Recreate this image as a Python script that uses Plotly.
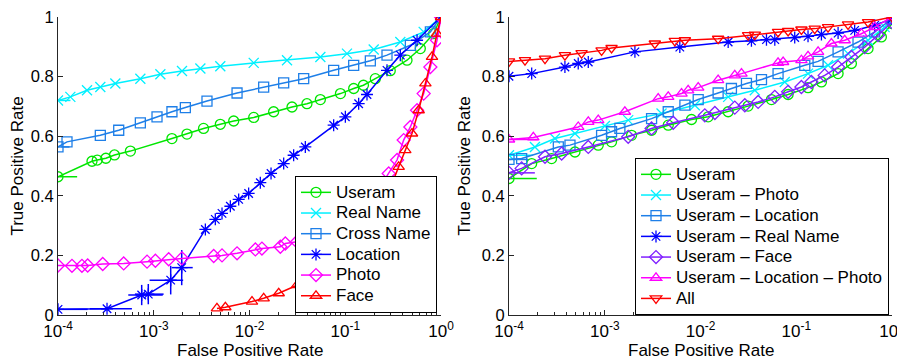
import plotly.graph_objects as go

# ---------------- data (log10 FPR, TPR) ----------------
# Left panel
L_useram_x = [-4.0, -3.645, -3.59, -3.5, -3.41, -3.244, -2.81, -2.653, -2.48, -2.305, -2.165, -1.956, -1.748, -1.556, -1.4, -1.26, -1.05, -0.912, -0.81, -0.686, -0.53, -0.355, -0.216, -0.077, 0.0]
L_useram_y = [0.464, 0.516, 0.52, 0.526, 0.537, 0.55, 0.592, 0.607, 0.626, 0.64, 0.651, 0.663, 0.682, 0.698, 0.709, 0.723, 0.743, 0.76, 0.771, 0.793, 0.82, 0.855, 0.894, 0.944, 1.0]
L_real_x = [-4.0, -3.871, -3.697, -3.558, -3.401, -3.14, -2.931, -2.705, -2.513, -2.305, -1.956, -1.608, -1.26, -0.982, -0.703, -0.425, -0.181, 0.0]
L_real_y = [0.72, 0.732, 0.754, 0.765, 0.777, 0.793, 0.808, 0.819, 0.827, 0.835, 0.846, 0.855, 0.866, 0.877, 0.891, 0.916, 0.95, 1.0]
L_cross_x = [-4.0, -3.906, -3.558, -3.366, -3.14, -2.966, -2.81, -2.67, -2.444, -2.13, -1.852, -1.643, -1.434, -1.121, -0.912, -0.738, -0.564, -0.32, -0.111, 0.0]
L_cross_y = [0.564, 0.581, 0.603, 0.62, 0.645, 0.665, 0.682, 0.696, 0.718, 0.745, 0.765, 0.779, 0.793, 0.821, 0.838, 0.853, 0.872, 0.905, 0.95, 1.0]
L_loc_x = [-4.0, -3.488, -3.126, -3.057, -2.823, -2.708, -2.461, -2.357, -2.287, -2.2, -2.113, -2.009, -1.887, -1.775, -1.643, -1.539, -1.417, -1.121, -0.999, -0.86, -0.773, -0.564, -0.425, -0.25, 0.0]
L_loc_y = [0.019, 0.021, 0.067, 0.07, 0.117, 0.159, 0.287, 0.321, 0.341, 0.365, 0.388, 0.408, 0.444, 0.475, 0.508, 0.536, 0.564, 0.637, 0.665, 0.709, 0.74, 0.821, 0.872, 0.922, 1.0]
# Location error bars: minus/plus in decades, +/- in TPR
L_loc_ex_minus = [0.0, 0.18, 0.14, 0.14, 0.22, 0.105, 0, 0, 0, 0, 0, 0, 0, 0, 0, 0, 0, 0, 0, 0, 0, 0, 0, 0, 0]
L_loc_ex_plus = [0.31, 0.26, 0.22, 0.16, 0.13, 0.115, 0, 0, 0, 0, 0, 0, 0, 0, 0, 0, 0, 0, 0, 0, 0, 0, 0, 0, 0]
L_loc_ey = [0.0, 0.0, 0.034, 0.034, 0.048, 0.059, 0, 0, 0, 0, 0, 0, 0, 0, 0, 0, 0, 0, 0, 0, 0, 0, 0, 0, 0]
L_photo_x = [-4.0, -3.854, -3.75, -3.69, -3.533, -3.314, -3.07, -2.983, -2.844, -2.705, -2.374, -2.287, -2.13, -1.939, -1.87, -1.678, -1.626, -1.504, -1.452, -1.2, -0.9, -0.616, -0.546, -0.459, -0.39, -0.32, -0.25, -0.181, -0.111, -0.042, 0.0]
L_photo_y = [0.166, 0.165, 0.165, 0.166, 0.171, 0.173, 0.179, 0.182, 0.187, 0.19, 0.198, 0.2, 0.207, 0.22, 0.223, 0.229, 0.24, 0.246, 0.254, 0.28, 0.33, 0.441, 0.475, 0.52, 0.587, 0.631, 0.687, 0.743, 0.832, 0.922, 1.0]
L_face_x = [-2.34, -2.252, -1.974, -1.852, -1.695, -1.504, -1.2, -0.8, -0.512, -0.442, -0.373, -0.303, -0.233, -0.163, -0.094, -0.042, 0.0]
L_face_y = [0.022, 0.026, 0.045, 0.056, 0.073, 0.1, 0.15, 0.28, 0.441, 0.497, 0.553, 0.609, 0.687, 0.777, 0.866, 0.944, 1.0]

# Right panel
R_useram_x = [-4.0, -3.763, -3.555, -3.311, -3.068, -2.929, -2.72, -2.511, -2.337, -2.094, -1.92, -1.711, -1.503, -1.259, -1.085, -0.877, -0.737, -0.563, -0.424, -0.25, -0.111, 0.0]
R_useram_y = [0.458, 0.508, 0.525, 0.547, 0.57, 0.581, 0.603, 0.62, 0.637, 0.656, 0.665, 0.682, 0.701, 0.723, 0.74, 0.763, 0.782, 0.81, 0.844, 0.894, 0.933, 0.978]
R_photo_x = [-4.0, -3.729, -3.52, -3.311, -2.998, -2.755, -2.407, -2.059, -1.711, -1.433, -1.12, -0.877, -0.668, -0.459, -0.25, -0.077, 0.0]
R_photo_y = [0.536, 0.564, 0.592, 0.609, 0.634, 0.654, 0.676, 0.704, 0.732, 0.754, 0.782, 0.81, 0.838, 0.877, 0.922, 0.966, 0.989]
R_loc_x = [-4.0, -3.868, -3.485, -3.363, -3.033, -2.929, -2.842, -2.511, -2.337, -2.163, -2.024, -1.816, -1.677, -1.52, -1.363, -1.19, -0.911, -0.772, -0.563, -0.355, -0.181, 0.0]
R_loc_y = [0.522, 0.525, 0.564, 0.57, 0.603, 0.615, 0.626, 0.659, 0.682, 0.704, 0.723, 0.745, 0.76, 0.777, 0.79, 0.81, 0.838, 0.851, 0.883, 0.916, 0.95, 0.994]
R_real_x = [-4.0, -3.763, -3.416, -3.277, -3.172, -2.685, -2.216, -1.711, -1.468, -1.311, -1.224, -1.016, -0.877, -0.737, -0.563, -0.39, -0.181, 0.0]
R_real_y = [0.801, 0.81, 0.832, 0.844, 0.849, 0.883, 0.899, 0.916, 0.92, 0.924, 0.924, 0.931, 0.935, 0.941, 0.946, 0.955, 0.972, 0.994]
R_face_x = [-4.0, -3.868, -3.624, -3.45, -3.172, -2.755, -2.511, -2.285, -1.955, -1.85, -1.642, -1.537, -1.398, -1.224, -1.085, -0.946, -0.842, -0.703, -0.563, -0.424, -0.285, -0.146, 0.0]
R_face_y = [0.477, 0.492, 0.531, 0.542, 0.564, 0.598, 0.626, 0.645, 0.67, 0.678, 0.696, 0.704, 0.715, 0.732, 0.749, 0.765, 0.782, 0.804, 0.832, 0.866, 0.899, 0.939, 0.983]
R_lp_x = [-4.0, -3.746, -3.277, -3.172, -3.068, -2.79, -2.442, -2.337, -2.198, -2.129, -2.024, -1.816, -1.642, -1.572, -1.19, -1.137, -0.946, -0.877, -0.772, -0.633, -0.494, -0.32, -0.181, 0.0]
R_lp_y = [0.589, 0.596, 0.631, 0.648, 0.654, 0.682, 0.726, 0.732, 0.743, 0.754, 0.763, 0.788, 0.804, 0.81, 0.846, 0.849, 0.855, 0.868, 0.883, 0.911, 0.922, 0.944, 0.966, 1.0]
R_all_x = [-4.0, -3.833, -3.624, -3.416, -3.242, -3.033, -2.929, -2.477, -2.268, -2.163, -1.816, -1.503, -1.433, -1.19, -1.085, -0.946, -0.807, -0.668, -0.459, -0.25, 0.0]
R_all_y = [0.851, 0.855, 0.86, 0.872, 0.879, 0.888, 0.896, 0.911, 0.92, 0.922, 0.927, 0.939, 0.941, 0.95, 0.953, 0.958, 0.961, 0.966, 0.975, 0.983, 1.0]

# edge error bars (plus side, decades) on the first point of some series
edge_err_plus = {"L_useram": 0.2, "L_real": 0.13, "L_cross": 0.12,
                 "R_useram": 0.29, "R_photo": 0.25, "R_loc": 0.2, "R_face": 0.27, "R_lp": 0.3}

tick_vals = [1e-4, 1e-3, 1e-2, 1e-1, 1]
tick_text = ["10<sup>-4</sup>", "10<sup>-3</sup>", "10<sup>-2</sup>", "10<sup>-1</sup>", "10<sup>0</sup>"]
minor_vals = [m * 10 ** e for e in range(-4, 0) for m in range(2, 10)]
x_title = "False Positive Rate"
y_title = "True Positive Rate"

GREEN = "#00e600"
CYAN = "#00f0ff"
AZURE = "#1e7fe8"
BLUE = "#0000ff"
MAGENTA = "#ff00ff"
RED = "#ff0000"
PURPLE = "#8020ff"

FONT = "Liberation Sans, Arial, Helvetica, sans-serif"

# page body has an 8px default margin: lay out in reference pixels minus that offset
OFF = 8
W, H = 905 - OFF, 360 - OFF


def px_x(v):
    return (v - OFF) / W


def px_y(v):
    return 1 - (v - OFF) / H


fig = go.Figure()


def add(name, lx, y, color, symbol, xaxis, yaxis, legend, key=None,
        ex_minus=None, ex_plus=None, ey=None):
    x = [10 ** v for v in lx]
    kw = {}
    if ex_plus is not None:
        arr = [xi * (10 ** p - 1) for xi, p in zip(x, ex_plus)]
        arrm = [xi * (1 - 10 ** (-m)) for xi, m in zip(x, ex_minus)]
        kw["error_x"] = dict(type="data", symmetric=False, array=arr, arrayminus=arrm,
                             color=color, thickness=1.5, width=0)
    elif key in edge_err_plus:
        p = edge_err_plus[key]
        arr = [x[0] * (10 ** p - 1)] + [0] * (len(x) - 1)
        kw["error_x"] = dict(type="data", symmetric=False, array=arr,
                             arrayminus=[0] * len(x), color=color, thickness=1.5, width=0)
    if ey is not None:
        kw["error_y"] = dict(type="data", array=ey, color=color, thickness=1.5, width=0)
    fig.add_trace(go.Scatter(
        x=x, y=y, name='<span style="font-size:17px">' + name + "</span>",
        mode="lines+markers",
        line=dict(color=color, width=1.5),
        marker=dict(symbol=symbol, size=10, color=color, line=dict(color=color, width=1.3)),
        xaxis=xaxis, yaxis=yaxis, legend=legend, **kw))


add("Useram", L_useram_x, L_useram_y, GREEN, "circle-open", "x", "y", "legend", "L_useram")
add("Real Name", L_real_x, L_real_y, CYAN, "x-thin-open", "x", "y", "legend", "L_real")
add("Cross Name", L_cross_x, L_cross_y, AZURE, "square-open", "x", "y", "legend", "L_cross")
add("Location", L_loc_x, L_loc_y, BLUE, "asterisk-open", "x", "y", "legend",
    ex_minus=L_loc_ex_minus, ex_plus=L_loc_ex_plus, ey=L_loc_ey)
add("Photo", L_photo_x, L_photo_y, MAGENTA, "diamond-open", "x", "y", "legend")
add("Face", L_face_x, L_face_y, RED, "triangle-up-open", "x", "y", "legend")

add("Useram", R_useram_x, R_useram_y, GREEN, "circle-open", "x2", "y2", "legend2", "R_useram")
add("Useram – Photo", R_photo_x, R_photo_y, CYAN, "x-thin-open", "x2", "y2", "legend2", "R_photo")
add("Useram – Location", R_loc_x, R_loc_y, AZURE, "square-open", "x2", "y2", "legend2", "R_loc")
add("Useram – Real Name", R_real_x, R_real_y, BLUE, "asterisk-open", "x2", "y2", "legend2")
add("Useram – Face", R_face_x, R_face_y, PURPLE, "diamond-open", "x2", "y2", "legend2", "R_face")
add("Useram – Location – Photo", R_lp_x, R_lp_y, MAGENTA, "triangle-up-open", "x2", "y2", "legend2", "R_lp")
add("All", R_all_x, R_all_y, RED, "triangle-down-open", "x2", "y2", "legend2")

axis_common = dict(showline=True, linecolor="#262626", linewidth=1, mirror=False,
                   ticks="inside", ticklen=5, tickcolor="#262626", showgrid=False,
                   zeroline=False, tickfont=dict(family=FONT, size=16.5, color="black"),
                   title_font=dict(family=FONT, size=17, color="black"), automargin=False,
                   ticklabeloverflow="allow")

xaxis_common = dict(axis_common, type="log", range=[-4, 0], tickvals=tick_vals, ticktext=tick_text,
                    ticklabelstandoff=1, tickfont=dict(family=FONT, size=17, color="black"),
                    minor=dict(tickvals=minor_vals, ticks="inside", ticklen=3, tickcolor="#262626"),
                    title=dict(text=""))
yaxis_common = dict(axis_common, range=[0, 1], tickvals=[0, 0.2, 0.4, 0.6, 0.8, 1],
                    ticktext=["0", "0.2", "0.4", "0.6", "0.8", "1"],
                    title=dict(text=y_title, standoff=6))

y_dom = [px_y(315), px_y(17)]
legend_common = dict(xanchor="right", yanchor="bottom", bgcolor="white",
                     bordercolor="black", borderwidth=1,
                     font=dict(family=FONT, size=13.6, color="black"), itemwidth=30,
                     tracegroupgap=0)
title_ann = dict(text=x_title, xref="paper", yref="paper", showarrow=False,
                 font=dict(family=FONT, size=17, color="black"),
                 xanchor="center", yanchor="middle", y=px_y(350))
fig.update_layout(
    width=W, height=H,
    margin=dict(l=0, r=0, t=0, b=0),
    paper_bgcolor="white", plot_bgcolor="white",
    font=dict(family=FONT, size=16, color="black"),
    xaxis=dict(xaxis_common, domain=[px_x(58), px_x(441)], anchor="y"),
    yaxis=dict(yaxis_common, domain=y_dom, anchor="x"),
    xaxis2=dict(xaxis_common, domain=[px_x(509), px_x(892)], anchor="y2"),
    yaxis2=dict(yaxis_common, domain=y_dom, anchor="x2"),
    legend=dict(legend_common, x=px_x(437), y=px_y(313)),
    legend2=dict(legend_common, x=px_x(889), y=px_y(315)),
    annotations=[dict(title_ann, x=px_x(249.5)), dict(title_ann, x=px_x(700.5))],
    showlegend=True,
)

fig.write_html("out.html")
